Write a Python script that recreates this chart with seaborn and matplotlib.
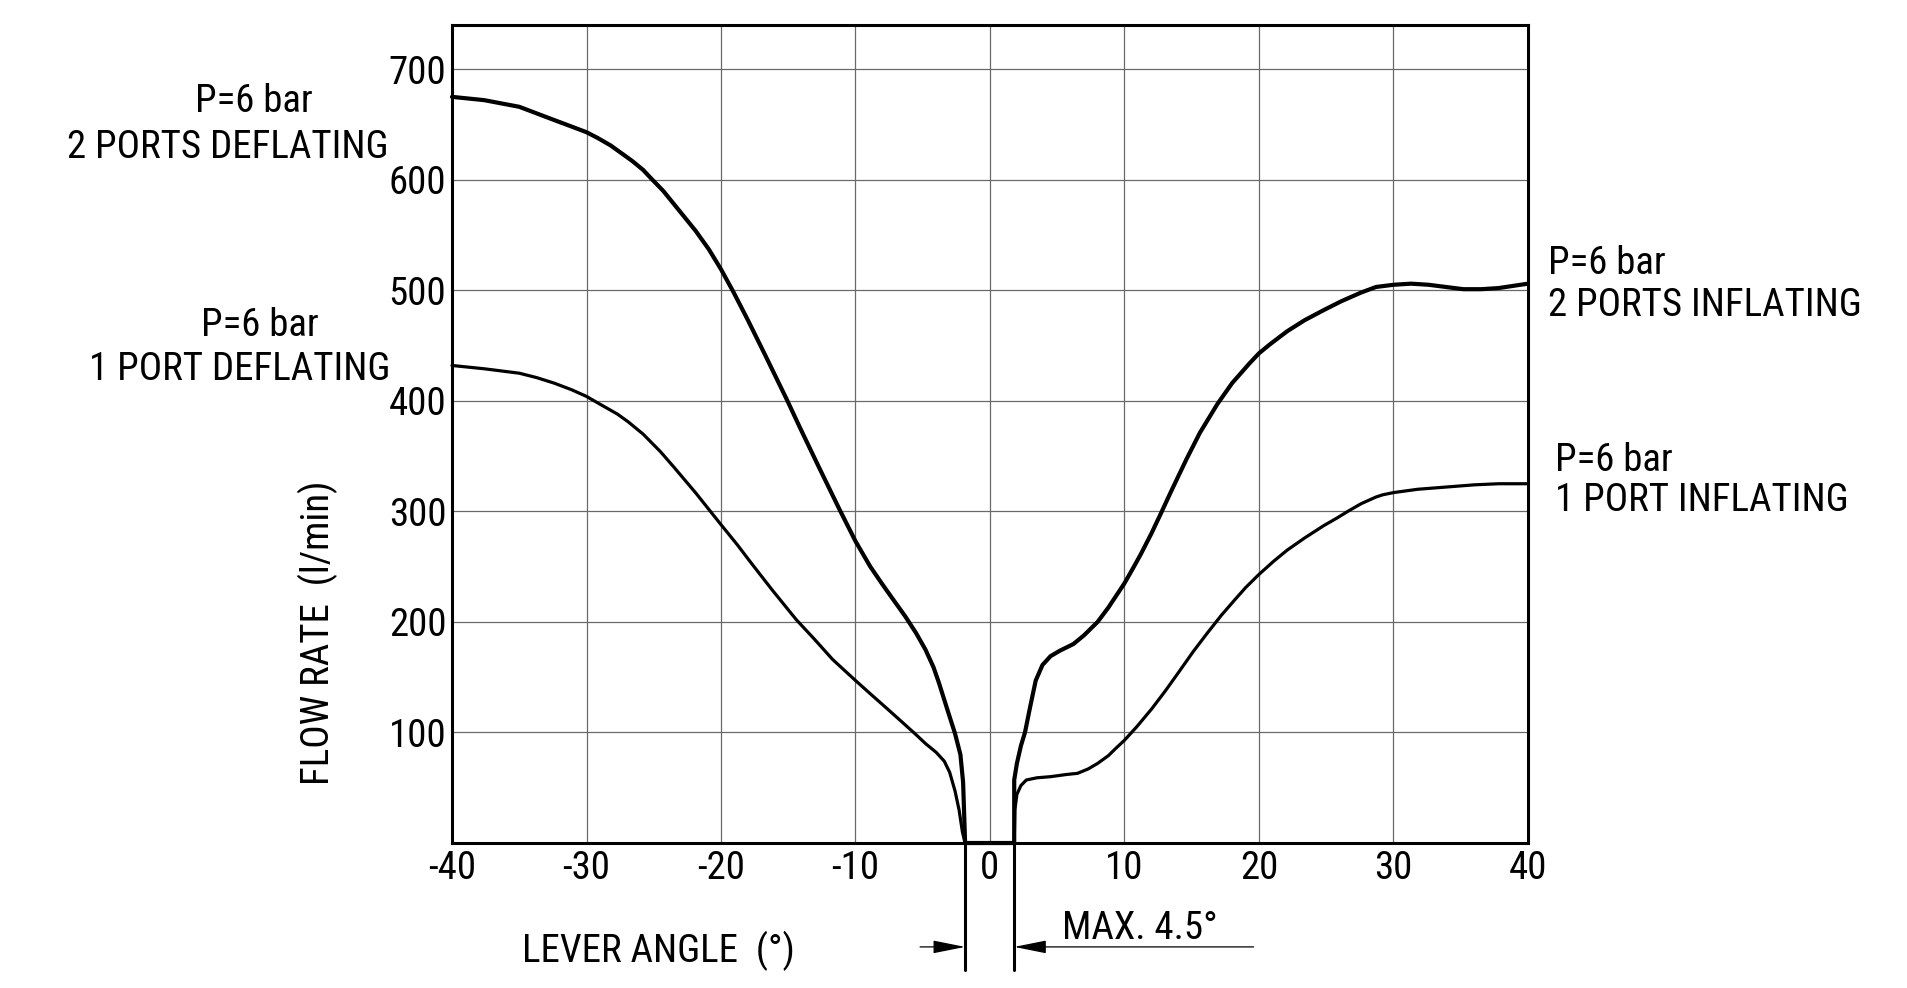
import numpy as np
import pandas as pd
import matplotlib
matplotlib.use('Agg')
import matplotlib.pyplot as plt
import seaborn as sns
from matplotlib import font_manager

# Curves: lever angle (deg) vs flow rate (l/min)
defl_2_angle = [-40, -37.6, -36.3, -35, -33.7, -32.4, -31.3, -30, -29.2, -28.2, -27.4, -26.6,
                -25.8, -25.1, -24.3, -23.5, -22.7, -21.9, -20.9, -20, -19.1, -18, -16.7, -15.1,
                -14.1, -12.8, -11.2, -10, -8.9, -8.0, -7.3, -6.3, -5.5, -4.8, -4.2, -3.8,
                -3.1, -2.6, -2.2, -2.0, -1.85, 0]
defl_2_flow = [675, 672, 669, 666, 660, 654, 649, 643, 638, 631, 624, 617,
               609, 600, 590, 578, 566, 554, 537, 519, 499, 473, 441, 401,
               375, 342, 302, 273, 250, 234, 222, 205, 190, 175, 159, 145,
               118, 99, 80, 55, 0, 0]

defl_1_angle = [-40, -37.6, -35, -33.7, -32.4, -31.1, -30, -29, -27.7, -26.9, -25.8, -24.5,
                -23.5, -21.9, -20, -18.8, -17.8, -16.2, -14.4, -13.1, -11.7, -10, -8.9, -7.6,
                -6.5, -5.5, -4.8, -4.0, -3.4, -3.0, -2.6, -2.3, -2.05, -1.85]
defl_1_flow = [432, 429, 425, 421, 416, 410, 404, 397, 388, 381, 370, 354,
               340, 317, 288, 270, 254, 229, 202, 185, 166, 147, 135, 121,
               109, 98, 90, 82, 74, 64, 47, 30, 10, 0]

infl_2_angle = [0, 1.8, 1.8, 2.0, 2.3, 2.6, 3.0, 3.4, 3.9, 4.5, 5.2, 6.2, 7.0,
                8.0, 8.8, 10, 10.7, 11.2, 12.0, 12.7, 13.5, 14.6, 15.6, 16.9, 18.0, 19.3, 20,
                20.8, 22.1, 23.4, 24.8, 26.1, 27.6, 28.7, 30, 31.3, 32.6, 33.9, 35.2, 36.5,
                37.8, 38.9, 40]
infl_2_flow = [0, 0, 57, 72, 88, 100, 124, 147, 161, 169, 174, 180, 188,
               200, 213, 235, 250, 261, 280, 298, 319, 347, 371, 397, 416, 434, 443,
               451, 463, 473, 482, 490, 498, 503, 505, 506, 505, 503, 501, 501,
               502, 504, 506]

infl_1_angle = [1.8, 1.85, 2.0, 2.3, 2.7, 3.5, 4.5, 5.7, 6.5, 7.3, 8.0, 8.8, 9.3, 10, 10.9,
                12, 13.0, 14, 15.1, 16.1, 17.2, 18.2, 19.0, 20, 21.1, 22.1, 23.4, 24.8, 25.8,
                26.6, 27.6, 28.7, 29.2, 30, 31.8, 33.9, 36.0, 37.8, 40]
infl_1_flow = [0, 30, 44, 52, 57, 59, 60, 62, 63, 67, 72, 79, 85, 93, 105,
               121, 137, 154, 173, 189, 206, 220, 231, 243, 255, 265, 276, 287, 294,
               300, 307, 313, 315, 317, 320, 322, 324, 325, 325]

x_ticks = [-40, -30, -20, -10, 0, 10, 20, 30, 40]
y_ticks = [100, 200, 300, 400, 500, 600, 700]
deadband = [-1.85, 1.8]

sns.set_theme(style='white')
names = {f.name for f in font_manager.fontManager.ttflist}
fam = 'DejaVu Sans'
for cand in ['Liberation Sans Narrow', 'DejaVu Sans Condensed', 'Roboto Condensed', 'Liberation Sans']:
    if cand in names:
        fam = cand
        break
plt.rcParams['font.family'] = [fam, 'DejaVu Sans']

W, H = 1907, 988
fig = plt.figure(figsize=(W / 100, H / 100), dpi=100)
ax = fig.add_axes([452 / W, (H - 843) / H, 1076 / W, 818 / H])

curves = [
    (defl_2_angle, defl_2_flow, 3.0),
    (defl_1_angle, defl_1_flow, 2.3),
    (infl_2_angle, infl_2_flow, 3.0),
    (infl_1_angle, infl_1_flow, 2.3),
]
for xs, ys, lw in curves:
    df = pd.DataFrame({'angle': xs, 'flow': ys})
    sns.lineplot(data=df, x='angle', y='flow', ax=ax, color='black', lw=lw,
                 sort=False, estimator=None, clip_on=False, zorder=3)

fs = 28
ax.set_xlim(-40, 40)
ax.set_ylim(0, 740)
ax.set_xticks(x_ticks)
ax.set_yticks(y_ticks)
ax.set_xticklabels([str(v) for v in x_ticks])
ax.set_yticklabels([str(v) for v in y_ticks])
ax.tick_params(length=0, labelsize=fs, colors='black')
ax.tick_params(axis='x', pad=5)
ax.tick_params(axis='y', pad=4)
ax.grid(True, color='#6a6a6a', lw=0.9)
ax.set_axisbelow(True)
for s in ax.spines.values():
    s.set_visible(True)
    s.set_color('black')
    s.set_linewidth(2.2)
ax.set_xlabel('')
ax.set_ylabel('')

# dimension marks for the dead band
for xv in deadband:
    ax.plot([xv, xv], [0, -115], color='black', lw=2.2, clip_on=False)
arrow = dict(arrowstyle='-|>,head_length=1.0,head_width=0.2', color='black', lw=0.9,
             mutation_scale=20, shrinkA=0, shrinkB=0)
ax.annotate('', xy=(deadband[0], -94), xytext=(-5.2, -94), arrowprops=arrow, annotation_clip=False)
ax.annotate('', xy=(deadband[1], -94), xytext=(19.6, -94), arrowprops=arrow, annotation_clip=False)

def ftext(px, py, s, **kw):
    fig.text(px / W, 1 - py / H, s, fontsize=fs, color='black', va='center', **kw)

ftext(1062, 928, 'MAX. 4.5°', ha='left')
ftext(522, 951, 'LEVER ANGLE  (°)', ha='left')
ftext(318, 633, 'FLOW RATE  (l/min)', ha='center', rotation=90)

ftext(254, 102, 'P=6 bar', ha='center')
ftext(228, 147, '2 PORTS DEFLATING', ha='center')
ftext(260, 326, 'P=6 bar', ha='center')
ftext(240, 369, '1 PORT DEFLATING', ha='center')

ftext(1548, 263, 'P=6 bar', ha='left')
ftext(1548, 306, '2 PORTS INFLATING', ha='left')
ftext(1555, 460, 'P=6 bar', ha='left')
ftext(1555, 500, '1 PORT INFLATING', ha='left')

fig.savefig('out.png', dpi=100, facecolor='white')
